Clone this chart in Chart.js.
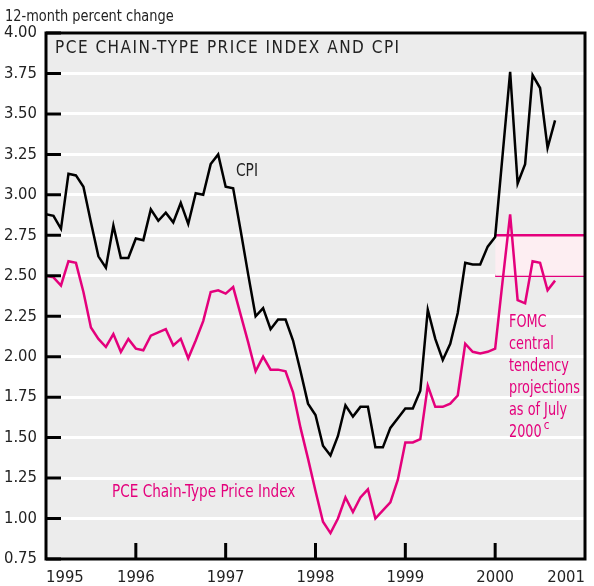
<!DOCTYPE html>
<html lang="en">
<head>
<meta charset="UTF-8">
<title>PCE Chain-Type Price Index and CPI</title>
<script src="https://cdn.jsdelivr.net/npm/chart.js"></script>
<style>
  body { margin: 0; background: #fff; }
  canvas { display: block; }
</style>
</head>
<body>
<canvas id="chart" width="594" height="586"></canvas>
<script>
// x = months since Jan 1995, tick labels every 12 months
const yearLabels = ['1995', '1996', '1997', '1998', '1999', '2000', '2001'];

// 12-month percent change, monthly from Jan 1995
const cpi = [
  2.88, 2.87, 2.79, 3.13, 3.12, 3.05, 2.83, 2.62, 2.55, 2.81, 2.61, 2.61,
  2.73, 2.72, 2.91, 2.84, 2.89, 2.83, 2.95, 2.82, 3.01, 3.00, 3.19, 3.25,
  3.05, 3.04, 2.78, 2.51, 2.25, 2.30, 2.17, 2.23, 2.23, 2.10, 1.91, 1.71,
  1.64, 1.45, 1.39, 1.51, 1.70, 1.63, 1.69, 1.69, 1.44, 1.44, 1.56, 1.62,
  1.68, 1.68, 1.79, 2.29, 2.11, 1.98, 2.08, 2.27, 2.58, 2.57, 2.57, 2.68,
  2.74, 3.25, 3.76, 3.07, 3.19, 3.74, 3.66, 3.29, 3.46
];
const pce = [
  2.50, 2.49, 2.44, 2.59, 2.58, 2.40, 2.18, 2.11, 2.06, 2.14, 2.03, 2.11,
  2.05, 2.04, 2.13, 2.15, 2.17, 2.07, 2.11, 1.99, 2.10, 2.22, 2.40, 2.41,
  2.39, 2.43, 2.26, 2.09, 1.91, 2.00, 1.92, 1.92, 1.91, 1.78, 1.56, 1.37,
  1.17, 0.98, 0.91, 1.00, 1.13, 1.04, 1.13, 1.18, 1.00, 1.05, 1.10, 1.24,
  1.47, 1.47, 1.49, 1.82, 1.69, 1.69, 1.71, 1.76, 2.08, 2.03, 2.02, 2.03,
  2.05, 2.47, 2.88, 2.35, 2.33, 2.59, 2.58, 2.41, 2.47
];

// FOMC central tendency band (July 2000), spanning 2000
const projMonths = [60, 72];
const projLow = 2.50;
const projHigh = 2.75;

const MAGENTA = '#e4007c';
const FONT = '"DejaVu Sans Condensed", "Liberation Sans Narrow", "Roboto", sans-serif';

const toPoints = arr => arr.map((v, i) => ({ x: i, y: v }));

// squeeze text a bit, the original uses a narrow face
function narrowText(ctx, s, x, y, sx) {
  ctx.save();
  ctx.translate(x, y);
  ctx.scale(sx, 1);
  ctx.fillText(s, 0, 0);
  ctx.restore();
  return ctx.measureText(s).width * sx;
}

// gray plot background, frame, inward ticks and annotations
const decor = {
  id: 'decor',
  beforeDraw(chart) {
    const { ctx, chartArea: a } = chart;
    ctx.save();
    ctx.fillStyle = '#ececec';
    ctx.fillRect(a.left, a.top, a.right - a.left, a.bottom - a.top);
    ctx.restore();
  },
  afterDraw(chart) {
    const { ctx, chartArea: a, scales } = chart;
    ctx.save();
    ctx.strokeStyle = '#000';
    ctx.lineWidth = 3;
    ctx.strokeRect(a.left, a.top, a.right - a.left, a.bottom - a.top);

    // inward tick marks
    ctx.beginPath();
    scales.y.ticks.forEach(t => {
      const y = scales.y.getPixelForValue(t.value);
      ctx.moveTo(a.left, y);
      ctx.lineTo(a.left + 15, y);
    });
    scales.x.ticks.forEach(t => {
      if (t.value <= 0 || t.value >= 72) return;
      const x = scales.x.getPixelForValue(t.value);
      ctx.moveTo(x, a.bottom);
      ctx.lineTo(x, a.bottom - 16);
    });
    ctx.stroke();

    // texts
    ctx.textBaseline = 'middle';
    ctx.textAlign = 'left';
    ctx.fillStyle = '#222';
    ctx.font = '16px ' + FONT;
    narrowText(ctx, '12-month percent change', 5, 17, 0.9);
    ctx.font = '17px ' + FONT;
    ctx.letterSpacing = '1.5px';
    ctx.fillText('PCE CHAIN-TYPE PRICE INDEX AND CPI', 55, 49);
    ctx.letterSpacing = '0px';
    narrowText(ctx, 'CPI', 236, 172, 0.9);

    ctx.fillStyle = MAGENTA;
    narrowText(ctx, 'PCE Chain-Type Price Index', 112, 493, 0.89);
    const fomc = ['FOMC', 'central', 'tendency', 'projections', 'as of July', '2000'];
    let w = 0;
    fomc.forEach((s, i) => { w = narrowText(ctx, s, 509, 323 + i * 22, 0.84); });
    ctx.font = '13px ' + FONT;
    narrowText(ctx, 'c', 509 + w + 2, 426, 0.9);
    ctx.restore();
  }
};

new Chart(document.getElementById('chart'), {
  type: 'line',
  data: {
    datasets: [
      {
        label: 'CPI',
        data: toPoints(cpi),
        borderColor: '#000',
        borderWidth: 2.5,
        pointRadius: 0,
        tension: 0,
        order: 1
      },
      {
        label: 'PCE Chain-Type Price Index',
        data: toPoints(pce),
        borderColor: MAGENTA,
        borderWidth: 2.5,
        pointRadius: 0,
        tension: 0,
        order: 0
      },
      {
        label: 'Projection high',
        data: projMonths.map(m => ({ x: m, y: projHigh })),
        borderColor: MAGENTA,
        borderWidth: 2.5,
        pointRadius: 0,
        fill: '+1',
        backgroundColor: '#fdeef2',
        order: 3
      },
      {
        label: 'Projection low',
        data: projMonths.map(m => ({ x: m, y: projLow })),
        borderColor: MAGENTA,
        borderWidth: 2.5,
        pointRadius: 0,
        order: 3
      }
    ]
  },
  options: {
    responsive: false,
    animation: false,
    layout: { padding: { left: 0, top: 33, right: 9, bottom: 0 } },
    plugins: {
      legend: { display: false },
      tooltip: { enabled: false }
    },
    scales: {
      x: {
        type: 'linear',
        min: 0,
        max: 72,
        afterFit: s => { s.height = 27; },
        afterBuildTicks: s => { s.ticks = yearLabels.map((_, i) => ({ value: i * 12 })); },
        grid: { display: false, drawTicks: false },
        border: { display: false },
        ticks: {
          align: 'inner',
          padding: 9,
          color: '#222',
          font: { family: FONT, size: 16.5 },
          callback: v => yearLabels[v / 12]
        }
      },
      y: {
        min: 0.75,
        max: 4,
        afterFit: s => { s.width = 46; },
        grid: { color: '#fff', lineWidth: 3, drawTicks: false },
        border: { display: false },
        ticks: {
          stepSize: 0.25,
          padding: 9,
          color: '#222',
          font: { family: FONT, size: 16.5 },
          callback: v => v.toFixed(2)
        }
      }
    }
  },
  plugins: [decor]
});
</script>
</body>
</html>
